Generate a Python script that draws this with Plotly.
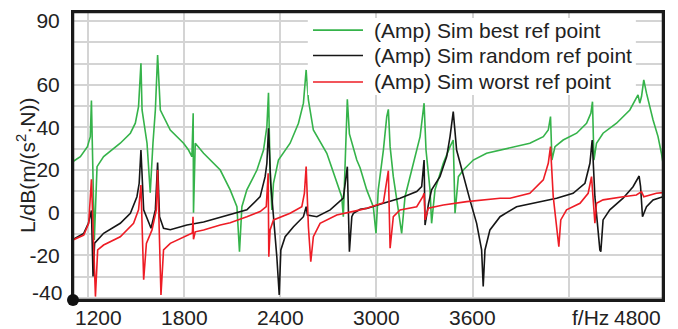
import plotly.graph_objects as go

# ---- data ----
green_f = [1106,1152,1196,1214,1221,1239,1256,1297,1401,1464,1495,1515,1530,1537,1568,1588,1605,1620,1634,1651,
           1713,1796,1827,1848,1856,1858,1869,1921,2025,2087,2129,2145,2160,2191,2254,2295,2316,2326,2336,2347,
           2357,2388,2461,2513,2544,2561,2575,2606,2690,2742,2783,2793,2804,2818,2831,2877,2898,2939,2980,2997,
           3011,3043,3064,3074,3085,3105,3136,3157,3178,3230,3272,3297,3309,3334,3344,3365,3417,3459,3479,3490,
           3511,3542,3604,3687,3771,3833,3957,4041,4072,4086,4095,4114,4165,4249,4311,4338,4348,4357,4373,4414,
           4498,4581,4622,4632,4643,4654,4668,4685,4726,4757,4778,4788]
green_db = [24,26.3,31,35.7,52.6,-12.8,21.6,26.3,32.6,37.3,42,49.8,70.1,48.2,32.6,9.4,32.6,48.2,74,48.2,
            38.8,32.6,29.4,26.3,46.7,0,32.6,27.9,20,10.7,2.8,-18.3,2.8,10.7,20,29.4,40.4,56.3,20,1.3,
            13.8,24.7,32.6,42,51.4,67,52.9,38.8,27.9,16.9,7.5,-1.9,26.3,53.2,37,24.7,21,10.7,2.8,-9.7,
            10.7,29.4,45.1,48.5,31,16.9,1.3,-9.7,7.5,23.2,35.7,51.4,29.4,10.7,-5,10.7,23.2,31,34.1,-0.3,
            16.9,20,24.7,27.9,29.4,30.2,32.6,35.7,38.8,45.1,24.7,31,34.1,37.3,42,46.7,52.1,24.7,32.6,37.3,
            42,48.2,54.5,55.3,51.4,54.5,62.3,56.1,43.5,35.7,27.9,23.2]

black_f = [1106,1173,1202,1214,1221,1231,1241,1297,1401,1464,1505,1519,1530,1547,1578,1593,1620,1634,1646,1671,
           1713,1817,1921,2025,2087,2191,2274,2305,2316,2326,2340,2368,2378,2393,2403,2430,2482,2544,2561,2569,
           2628,2711,2793,2818,2831,2846,2856,2898,2939,3043,3147,3251,3282,3297,3303,3325,3344,3396,3438,3459,
           3479,3500,3542,3583,3625,3656,3666,3677,3708,3771,3874,4020,4124,4227,4301,4332,4346,4363,4373,4394,
           4400,4414,4456,4539,4601,4639,4648,4660,4685,4726,4788]
black_db = [-12.5,-9.7,-5,-1.9,1,-30,-14.3,-9.7,-5,-0.3,7.5,13.8,29.4,1.3,-5,-7.3,1.3,23.5,-1.9,-7.3,
            -8,-5.8,-4.4,-2.2,-1.1,1.3,7.5,16.9,23.2,39.6,13.8,-11.3,-20.7,-38.6,-17.5,-11.3,-6.6,-1.9,2.8,-1.1,
            -1.9,1.3,6.8,21.6,-18.3,-1.9,-0.3,1.6,2,4.4,6.8,9.9,12.2,24.7,-5.8,4.4,10.7,16.9,26.3,35.7,
            47.4,29.4,16.9,6,-5,-17.5,-34.7,-17.5,-8.1,-1.9,2.8,5.2,6.8,9.1,13.8,23.2,34.1,7.5,-0.3,-17.5,
            -18.3,-3.4,1.3,6.8,12.2,17.2,12.2,-1.9,2.8,6,7.5]

red_f = [1106,1173,1204,1221,1246,1260,1297,1401,1484,1515,1530,1547,1564,1599,1626,1634,1655,1671,1713,1817,
         1851,1855,1858,1869,1921,2025,2087,2191,2274,2312,2324,2328,2336,2357,2461,2534,2550,2561,2575,2590,
         2606,2648,2752,2898,2939,3043,3074,3085,3105,3147,3251,3289,3297,3303,3323,3417,3563,3771,3833,3957,
         4041,4072,4086,4103,4124,4138,4150,4186,4270,4321,4342,4363,4373,4414,4539,4622,4654,4668,4747,4788]
red_db = [-12.8,-10.5,-5,15.7,-39.4,-17.5,-15.2,-11.3,-5,1.3,13,-31.5,-14.4,-8.1,1.3,20,-38.6,-17.5,-14.4,-10.5,
          -9.5,-1.9,-12.5,-9,-8.1,-5.8,-4.7,-1.9,0.5,2.8,18.5,-20.7,-8.1,-3.4,-0.3,2.8,9.1,21.6,-6.6,-23,
          -11.3,-5,-1.1,1.3,2.1,4.7,19.7,-16.7,-1.9,1.3,2.8,7.5,9.1,-3.4,2.1,3.6,5.2,6.8,6.8,9.1,
          15.4,23.2,31,7.5,-5,-16,-3.4,1.3,4.4,9.1,16.9,-5,4.4,6,7.5,8.3,9.9,7.5,9.1,9.4]

series_names = ["(Amp) Sim best ref point", "(Amp) Sim random ref point", "(Amp) Sim worst ref point"]
series_colors = ["#35b34a", "#161616", "#ee1c25"]

x_grid = [1200, 1800, 2400, 3000, 3600, 4200]
x_labels = ["1200", "1800", "2400", "3000", "3600", "f/Hz"]
x_label_shift = [10, 0, 0, 0, 0, 22]
y_grid = [-40, -30, -20, -10, 0, 10, 20, 30, 40, 50, 60, 70, 80, 90]
y_text = [" ", " ", "-20", " ", "0", " ", "20", " ", "40", " ", "60", " ", " ", "90"]

FONT = "Liberation Sans, Arial, sans-serif"
TXT = "#222222"
TICK_SIZE = 21
FRAME = "#1a1a1a"

fig = go.Figure()
for xs, ys, nm, col in [(green_f, green_db, series_names[0], series_colors[0]),
                        (black_f, black_db, series_names[1], series_colors[1]),
                        (red_f, red_db, series_names[2], series_colors[2])]:
    fig.add_trace(go.Scatter(x=xs, y=ys, mode="lines", name=nm, showlegend=False,
                             line=dict(color=col, width=1.6)))

# page body has an 8px default margin -> figure is 670x321 so that it fills the 678x329 window
fig.update_layout(
    width=670, height=321,
    margin=dict(l=65, r=15, t=4, b=29, autoexpand=False),
    paper_bgcolor="white", plot_bgcolor="white",
    font=dict(family=FONT, size=TICK_SIZE, color=TXT),
    showlegend=False,
    xaxis=dict(range=[1106, 4788], tickmode="array", tickvals=x_grid, showticklabels=False,
               showgrid=True, gridcolor="#d4d4d4", gridwidth=1.5, automargin=False,
               showline=True, linecolor=FRAME, linewidth=2, mirror=True,
               ticks="", zeroline=False),
    yaxis=dict(range=[-41, 94.2], tickmode="array", tickvals=y_grid, ticktext=y_text,
               showgrid=True, gridcolor="#d4d4d4", gridwidth=1.5, automargin=False,
               showline=True, linecolor=FRAME, linewidth=2, mirror=True,
               ticks="outside", ticklen=7, tickcolor="rgba(0,0,0,0)", zeroline=False,
               tickfont=dict(family=FONT, size=TICK_SIZE, color=TXT)),
)

# legend (white box, line samples, real text)
fig.add_shape(type="rect", xref="paper", yref="paper", x0=0.398, x1=0.954, y0=0.712, y1=0.979,
              line=dict(width=0), fillcolor="white", layer="above")
leg_rows = [0.937, 0.849, 0.757]
for nm, col, yy in zip(series_names, series_colors, leg_rows):
    fig.add_shape(type="line", xref="paper", yref="paper", x0=0.4068, x1=0.4915, y0=yy, y1=yy,
                  line=dict(color=col, width=1.6), layer="above")
    fig.add_annotation(x=0.5068, y=yy, xref="paper", yref="paper", xanchor="left", yanchor="middle",
                       text=nm, showarrow=False, font=dict(family=FONT, size=21, color=TXT))

# plot frame
fig.add_shape(type="rect", xref="paper", yref="paper", x0=0, x1=1, y0=0, y1=1,
              line=dict(color=FRAME, width=2.5), layer="above")

# corner dot
fig.add_shape(type="circle", xref="x domain", yref="y domain",
              xsizemode="pixel", ysizemode="pixel", xanchor=0, yanchor=0,
              x0=-6, x1=6, y0=-6, y1=6, fillcolor="#111111", line=dict(color="#111111", width=0),
              layer="above")

# x-axis labels
for xv, lab, sh in zip(x_grid, x_labels, x_label_shift):
    fig.add_annotation(x=xv, y=0, xref="x", yref="paper", xanchor="center", yanchor="top", text=lab,
                       showarrow=False, xshift=sh, yshift=-4,
                       font=dict(family=FONT, size=TICK_SIZE, color=TXT))
fig.add_annotation(x=1, y=0, xref="paper", yref="paper", xanchor="right", yanchor="top", text="4800",
                   showarrow=False, yshift=-4, font=dict(family=FONT, size=TICK_SIZE, color=TXT))
fig.add_annotation(x=0, y=-40, xref="paper", yref="y", xanchor="right", yanchor="middle", text="-40",
                   showarrow=False, xshift=-9, yshift=5, font=dict(family=FONT, size=TICK_SIZE, color=TXT))
fig.add_annotation(x=-0.0797, y=0.469, xref="paper", yref="paper", xanchor="center", yanchor="middle",
                   text="L/dB(m/(s<sup>2</sup>·N))",
                   textangle=-90, showarrow=False, font=dict(family=FONT, size=21, color=TXT))

fig.write_html("out.html")
